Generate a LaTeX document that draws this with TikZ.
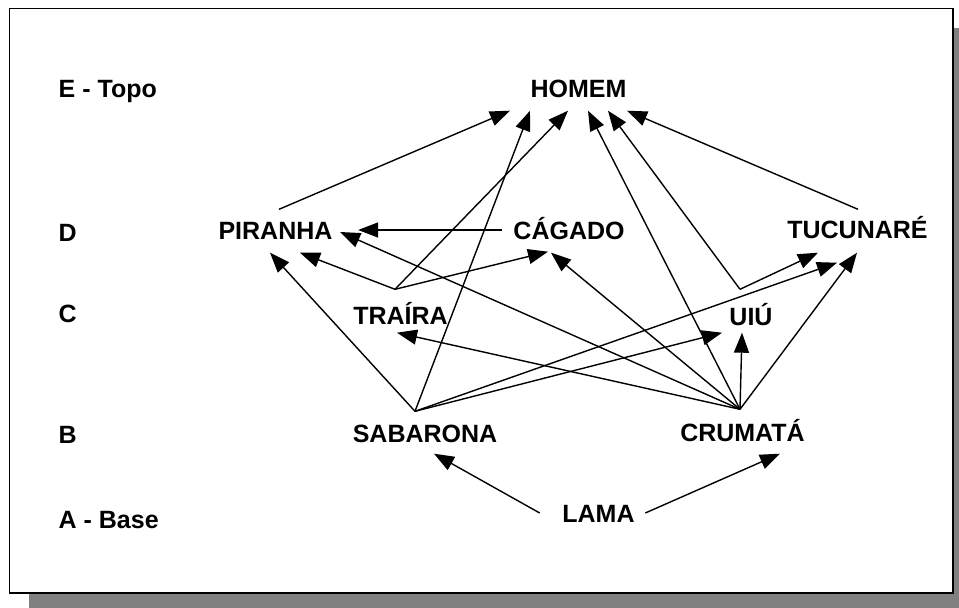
\documentclass[tikz,border=0pt]{standalone}
\usepackage{fontspec}
\setmainfont{Liberation Sans}
\usetikzlibrary{arrows.meta}
\begin{document}
\begin{tikzpicture}[x=1pt, y=-1pt, line width=1.4pt, >={Triangle[length=20pt,width=15pt]}]

\tikzstyle{every node} = [inner sep=0pt, text height=18pt, text depth=0pt, anchor=base, font=\fontsize{25}{30}\selectfont\bfseries]
\tikzstyle{nivel} = [anchor=base west]

\useasboundingbox (0,0) rectangle (959,608);
\fill[gray] (29,28) rectangle (959,608);
\draw[fill=white, line width=1.5pt] (9.5,8.5) rectangle (953,593);

\node[nivel] (e) at (58,97) {E - Topo};
\node[nivel] (d) at (58,241) {D};
\node[nivel] (c) at (58,322) {C};
\node[nivel] (b) at (58,443) {B};
\node[nivel] (a) at (58,528) {A - Base};

\node (homem) at (578.5,97) {HOMEM};

\node (piranha) at (275.5,239) {PIRANHA};
\node (cagado) at (569,239) {CÁGADO};
\node (tucunare) at (857.5,238) {TUCUNARÉ};

\node (traira) at (400.5,324) {TRAÍRA};
\node (uiu) at (751,325) {UIÚ};

\node (sabarona) at (425,442) {SABARONA};
\node (crumata) at (742.5,441) {CRUMATÁ};

\node (lama) at (598.5,522) {LAMA};

\draw[->] ([xshift=3.5pt,yshift=11pt]piranha.north) -- ([xshift=-68.5pt,yshift=-13pt]homem.south);
\draw[->] ([xshift=-10pt,yshift=12pt]sabarona.north) -- ([xshift=-48.5pt,yshift=-13pt]homem.south);
\draw[->] ([xshift=-5.5pt,yshift=16pt]traira.north) -- ([xshift=-10.5pt,yshift=-13pt]homem.south);
\draw[->] ([xshift=-2.5pt,yshift=13pt]crumata.north) -- ([xshift=9.5pt,yshift=-13pt]homem.south);
\draw[->] ([xshift=-11pt,yshift=17pt]uiu.north) -- ([xshift=29.5pt,yshift=-13pt]homem.south);
\draw[->] ([xshift=0.5pt,yshift=10pt]tucunare.north) -- ([xshift=48.5pt,yshift=-13pt]homem.south);

\draw[->] ([xshift=-11pt]cagado.west) -- ([xshift=25pt]piranha.east);
\draw[->] ([xshift=-2.5pt,yshift=13pt]crumata.north) -- ([xshift=7pt,yshift=-2pt]piranha.east);
\draw[->] ([xshift=-5.5pt,yshift=16pt]traira.north) -- ([xshift=24.5pt,yshift=-13pt]piranha.south);
\draw[->] ([xshift=-10pt,yshift=12pt]sabarona.north) -- ([xshift=-5.5pt,yshift=-13pt]piranha.south);

\draw[->] ([xshift=-5.5pt,yshift=16pt]traira.north) -- ([xshift=-21pt,yshift=-12pt]cagado.south);
\draw[->] ([xshift=-2.5pt,yshift=13pt]crumata.north) -- ([xshift=-18pt,yshift=-13pt]cagado.south);

\draw[->] ([xshift=-11pt,yshift=17pt]uiu.north) -- ([xshift=-39.5pt,yshift=-14pt]tucunare.south);
\draw[->] ([xshift=-10pt,yshift=12pt]sabarona.north) -- ([xshift=-20.5pt,yshift=-24pt]tucunare.south);
\draw[->] ([xshift=-2.5pt,yshift=13pt]crumata.north) -- ([xshift=-0.5pt,yshift=-14pt]tucunare.south);

\draw[->] ([xshift=-2.5pt,yshift=13pt]crumata.north) -- ([xshift=-3.5pt,yshift=-8pt]traira.south);
\draw[->] ([xshift=-10pt,yshift=12pt]sabarona.north) -- ([xshift=-29pt,yshift=-7pt]uiu.south);
\draw[->] ([xshift=-2.5pt,yshift=13pt]crumata.north) -- ([xshift=-9pt,yshift=-7pt]uiu.south);

\draw[->] ([xshift=-22pt]lama.west) -- ([xshift=9pt,yshift=-11pt]sabarona.south);
\draw[->] ([xshift=10pt]lama.east) -- ([xshift=37.5pt,yshift=-12pt]crumata.south);
\end{tikzpicture}
\end{document}
